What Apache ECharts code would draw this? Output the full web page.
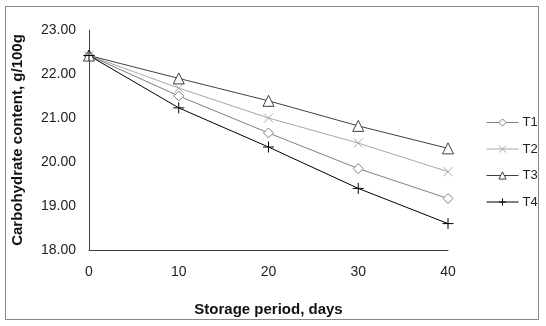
<!DOCTYPE html>
<html>
<head>
<meta charset="utf-8">
<script src="https://cdn.jsdelivr.net/npm/echarts@6/dist/echarts.min.js"></script>
<style>
html,body{margin:0;padding:0;background:#fff;}
#frame{position:absolute;left:5px;top:6px;width:534px;height:314px;border:1px solid #888;box-sizing:border-box;}
#chart{position:absolute;left:0;top:0;width:546px;height:326px;}
</style>
</head>
<body>
<div id="frame"></div>
<div id="chart"></div>
<script>
const days = [0, 10, 20, 30, 40];
const seriesNames = ['T1', 'T2', 'T3', 'T4'];
const T1 = [22.42, 21.50, 20.66, 19.85, 19.17];
const T2 = [22.42, 21.68, 21.00, 20.43, 19.78];
const T3 = [22.42, 21.90, 21.39, 20.82, 20.31];
const T4 = [22.42, 21.23, 20.34, 19.40, 18.60];
const yTicks = ['18.00', '19.00', '20.00', '21.00', '22.00', '23.00'];

const font = 'Liberation Sans, Arial, sans-serif';
const crossPath = 'path://M0,0L10,10M10,0L0,10';
const plusPath = 'path://M5,0L5,10M0,5L10,5';

function pairs(vals){ return days.map((d,i)=>[d, vals[i]]); }

const styles = [
  {data:T1, color:'#7f7f7f', symbol:'diamond', size:10, fill:'#fff'},
  {data:T2, color:'#a6a6a6', symbol:crossPath, size:9, fill:'transparent'},
  {data:T3, color:'#404040', symbol:'triangle', size:11, fill:'#fff'},
  {data:T4, color:'#000000', symbol:plusPath, size:11, fill:'transparent'}
];

const chart = echarts.init(document.getElementById('chart'), null, {renderer:'canvas'});
chart.setOption({
  animation:false,
  backgroundColor:'transparent',
  textStyle:{fontFamily:font},
  grid:{left:89, right:98, top:30, bottom:76, containLabel:false, outerBoundsMode:'none'},
  legend:{
    orient:'vertical', left:481, top:111,
    itemWidth:32, itemHeight:9, itemGap:13.5,
    textStyle:{fontSize:13, color:'#222', fontFamily:font, padding:[0,0,0,-1]},
    lineStyle:{width:1},
    itemStyle:{borderWidth:1},
    data:seriesNames
  },
  xAxis:{
    type:'value', min:0, max:40, interval:10,
    name:'Storage period, days', nameLocation:'middle', nameGap:52,
    nameTextStyle:{fontSize:15, fontWeight:'bold', color:'#111', fontFamily:font},
    axisLine:{show:true, lineStyle:{color:'#404040', width:1}},
    axisTick:{show:false},
    splitLine:{show:false},
    axisLabel:{fontSize:14, color:'#222', margin:15, fontFamily:font}
  },
  yAxis:{
    type:'value', min:18, max:23, interval:1,
    name:'Carbohydrate content, g/100g', nameLocation:'middle', nameGap:64, nameRotate:90,
    nameTextStyle:{fontSize:15, fontWeight:'bold', color:'#111', fontFamily:font},
    axisLine:{show:true, lineStyle:{color:'#404040', width:1}},
    axisTick:{show:false},
    splitLine:{show:false},
    axisLabel:{fontSize:14, color:'#222', margin:13, fontFamily:font,
      formatter:function(v){ return yTicks[Math.round(v-18)]; }}
  },
  series: styles.map((s,i)=>({
    name:seriesNames[i], type:'line', data:pairs(s.data),
    symbol:s.symbol, symbolSize:s.size, showSymbol:true,
    lineStyle:{color:s.color, width:1},
    itemStyle:{color:s.fill, borderColor:s.color, borderWidth:1},
    emphasis:{disabled:true}
  }))
});
</script>
</body>
</html>
